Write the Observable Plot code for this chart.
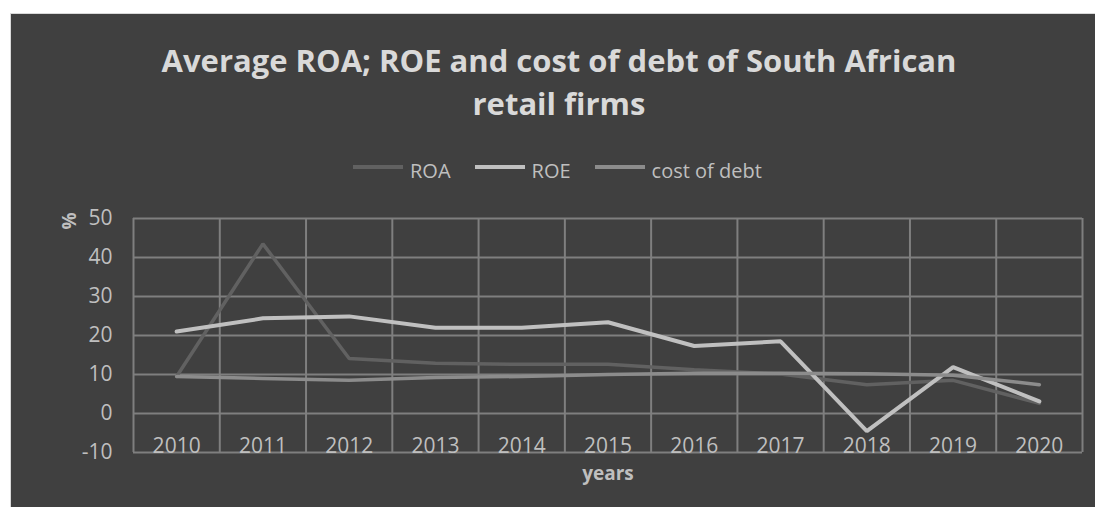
<!DOCTYPE html>
<html><head><meta charset="utf-8">
<script src="https://cdn.jsdelivr.net/npm/d3@7"></script>
<script src="https://cdn.jsdelivr.net/npm/@observablehq/plot@0.6"></script>
<style>
html,body{margin:0;padding:0;background:#fff;width:1095px;height:507px;overflow:hidden;font-family:"Open Sans",sans-serif;}
#panel{position:absolute;left:10px;top:13px;width:1085px;height:494px;background:#404040;border-top:1px solid #d9d9d9;border-left:1px solid #d9d9d9;}
#title{position:absolute;left:10px;width:1098px;top:39px;text-align:center;font-size:31px;line-height:43px;font-weight:700;color:#d9d9d9;}
#legend{position:absolute;left:353px;top:158px;display:flex;align-items:center;font-size:20px;line-height:26px;color:#bfbfbf;white-space:nowrap;}
#legend .item{display:flex;align-items:center;margin-right:24px;}
#legend .sw{width:50px;margin-right:7px;position:relative;top:-4px;}
#chart{position:absolute;left:11px;top:190px;}
</style></head>
<body>
<div id="panel"></div>
<div id="title">Average ROA; ROE and cost of debt of South African<br>retail firms</div>
<div id="legend"></div>
<div id="chart"></div>
<script>
const years = [2010, 2011, 2012, 2013, 2014, 2015, 2016, 2017, 2018, 2019, 2020];
const roa = [9.5, 43.5, 14.1, 12.9, 12.6, 12.6, 11.2, 10.1, 7.4, 8.5, 2.6];
const roe = [21, 24.4, 24.9, 22, 22, 23.4, 17.3, 18.5, -4.5, 11.9, 3.1];
const costOfDebt = [9.5, 9, 8.5, 9.2, 9.5, 10, 10.3, 10.3, 10.2, 9.8, 7.4];
const seriesNames = ["ROA", "ROE", "cost of debt"];
const seriesColors = ["#616161", "#c0c0c0", "#8c8c8c"];
const seriesWidths = [3.5, 4, 3.5];
const yTicks = [-10, 0, 10, 20, 30, 40, 50];

const data = [];
[roa, roe, costOfDebt].forEach((vals, i) => vals.forEach((v, j) => data.push({series: seriesNames[i], year: years[j], value: v})));
const bounds = [...years.map(y => y - 0.5), years[years.length - 1] + 0.5];

const legend = document.getElementById("legend");
seriesNames.forEach((n, i) => {
  const it = document.createElement("div"); it.className = "item";
  const sw = document.createElement("div"); sw.className = "sw";
  sw.style.height = seriesWidths[i] + "px"; sw.style.background = seriesColors[i];
  const t = document.createElement("span"); t.textContent = n;
  it.appendChild(sw); it.appendChild(t); legend.appendChild(it);
});

const chart = Plot.plot({
  width: 1084, height: 317,
  marginTop: 28, marginBottom: 55, marginLeft: 122, marginRight: 13,
  style: {background: "transparent", color: "#bfbfbf", fontFamily: "Open Sans", fontSize: "21px", overflow: "visible"},
  x: {domain: [bounds[0], bounds[bounds.length - 1]]},
  y: {domain: [yTicks[0], yTicks[yTicks.length - 1]]},
  color: {domain: seriesNames, range: seriesColors},
  marks: [
    Plot.ruleY(yTicks, {stroke: "#7f7f7f", strokeWidth: 2}),
    Plot.ruleX(bounds, {stroke: "#7f7f7f", strokeWidth: 2}),
    Plot.line(data, {x: "year", y: "value", z: "series", stroke: "#ffffff", strokeOpacity: 0.07, strokeWidth: 18, ariaLabel: "glow"}),
    ...seriesNames.map((n, i) => Plot.line(data.filter(d => d.series === n), {x: "year", y: "value", stroke: seriesColors[i], strokeWidth: seriesWidths[i], strokeLinejoin: "miter"})),
    Plot.axisY({ticks: yTicks, tickSize: 0, tickPadding: 21, label: null, tickFormat: d => String(d), fontSize: 21, fill: "#bfbfbf"}),
    Plot.axisX({ticks: years, tickSize: 0, tickPadding: -14, label: null, tickFormat: d => String(d), fontSize: 21, fill: "#bfbfbf"}),
    Plot.text(["%"], {text: d => d, frameAnchor: "top-left", dx: -71, dy: 11, rotate: -90, fontWeight: "bold", fontSize: 19, fill: "#bfbfbf"}),
    Plot.text(["years"], {text: d => d, frameAnchor: "bottom", dy: 27, fontWeight: "bold", fontSize: 19, fill: "#bfbfbf"})
  ]
});
d3.select(chart).selectAll('g[aria-label="glow"]').style("filter", "blur(6px)");
document.getElementById("chart").appendChild(chart);
</script>
</body></html>
